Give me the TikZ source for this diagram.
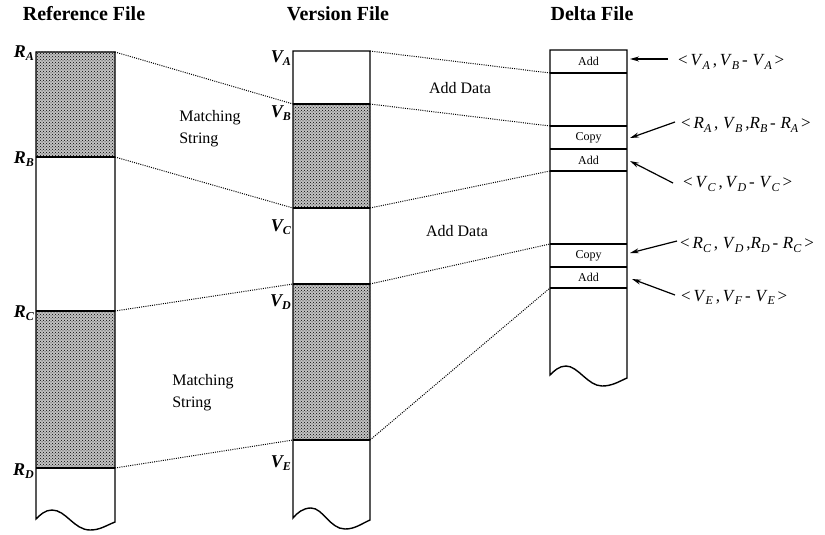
\documentclass[tikz,border=0pt]{standalone}
\usepackage{fontspec}
\setmainfont{Liberation Serif}
\usetikzlibrary{patterns,arrows.meta}
\newcommand\lowsub[1]{\raisebox{-0.4ex}{\fontsize{12}{12}\selectfont #1}}
\newcommand\vv[2]{\textit{#1}\lowsub{\textit{#2}}}
\begin{document}
\begin{tikzpicture}[x=1pt,y=-1pt,
 colline/.style={line width=1.4pt},
 dotline/.style={dash pattern=on 1pt off 1.2pt,line width=1pt},
 dotbase/.style={fill=black!24},
 dotfill/.style={pattern=crosshatch dots, pattern color=black},
 header/.style={font=\fontsize{20}{22}\selectfont\bfseries},
 midtext/.style={font=\fontsize{16}{22}\selectfont, align=left},
 cell/.style={font=\fontsize{12}{12}\selectfont},
 sidelab/.style={font=\fontsize{18}{18}\selectfont\bfseries\itshape, anchor=east, inner sep=1pt},
 tuple/.style={font=\fontsize{17}{17}\selectfont, anchor=west, inner sep=0pt},
 arr/.style={-{Stealth[length=9pt,width=5pt]}, line width=1.2pt}]
\useasboundingbox (0,0) rectangle (825,535);

% ---------- coordinates ----------
% reference file
\coordinate (RAl) at (36,52);  \coordinate (RAr) at (115,52);
\coordinate (RBl) at (36,157); \coordinate (RBr) at (115,157);
\coordinate (RCl) at (36,311); \coordinate (RCr) at (115,311);
\coordinate (RDl) at (36,468); \coordinate (RDr) at (115,468);
% version file
\coordinate (VAl) at (293,51);  \coordinate (VAr) at (370,51);
\coordinate (VBl) at (293,104); \coordinate (VBr) at (370,104);
\coordinate (VCl) at (293,208); \coordinate (VCr) at (370,208);
\coordinate (VDl) at (293,284); \coordinate (VDr) at (370,284);
\coordinate (VEl) at (293,440); \coordinate (VEr) at (370,440);
% delta file
\coordinate (D0l) at (550,50);  \coordinate (D0r) at (627,50);
\coordinate (D1l) at (550,73);  \coordinate (D1r) at (627,73);
\coordinate (D2l) at (550,126); \coordinate (D2r) at (627,126);
\coordinate (D3l) at (550,149); \coordinate (D3r) at (627,149);
\coordinate (D4l) at (550,171); \coordinate (D4r) at (627,171);
\coordinate (D5l) at (550,244); \coordinate (D5r) at (627,244);
\coordinate (D6l) at (550,267); \coordinate (D6r) at (627,267);
\coordinate (D7l) at (550,288); \coordinate (D7r) at (627,288);

% ---------- shaded matching strings ----------
\foreach \a/\b in {RAl/RBr,RCl/RDr,VBl/VCr,VDl/VEr}{
  \fill[dotbase] (\a) rectangle (\b);
  \fill[dotfill] (\a) rectangle (\b);
}

% ---------- column outlines ----------
\draw[colline] (36,519) -- (RAl) -- (RAr) -- (115,522)
  .. controls (105,526) and (100,530) .. (90,530)
  .. controls (74,530) and (66,510) .. (52,510)
  .. controls (45,510) and (40,515) .. cycle;
\draw[colline] (293,518) -- (VAl) -- (VAr) -- (370,520)
  .. controls (361,524) and (355,529) .. (345,529)
  .. controls (330,529) and (323,508) .. (311,508)
  .. controls (303,508) and (297,513) .. cycle;
\draw[colline] (550,375) -- (D0l) -- (D0r) -- (627,378)
  .. controls (618,382) and (612,386) .. (602,386)
  .. controls (588,386) and (578,366) .. (566,366)
  .. controls (559,366) and (554,371) .. cycle;

% horizontal dividers
\foreach \p in {RB,RC,RD,VB,VC,VD,VE,D1,D2,D3,D4,D5,D6,D7}
  \draw[colline] (\p l) -- (\p r);

% ---------- cells ----------
\node[cell] (c1) at (588.5,61.5) {Add};
\node[cell] (c2) at (588.5,137.5) {Copy};
\node[cell] (c3) at (588.5,160) {Add};
\node[cell] (c4) at (588.5,255.5) {Copy};
\node[cell] (c5) at (588.5,277.5) {Add};

% ---------- headers ----------
\node[header] (h1) at (84,14) {Reference File};
\node[header] (h2) at (338,14) {Version File};
\node[header] (h3) at (592,14) {Delta File};

% ---------- side labels ----------
\node[sidelab] (lRA) at (35,53) {\vv{R}{A}};
\node[sidelab] (lRB) at (35,159) {\vv{R}{B}};
\node[sidelab] (lRC) at (35,313) {\vv{R}{C}};
\node[sidelab] (lRD) at (35,471) {\vv{R}{D}};
\node[sidelab] (lVA) at (292,58) {\vv{V}{A}};
\node[sidelab] (lVB) at (292,113) {\vv{V}{B}};
\node[sidelab] (lVC) at (292,227) {\vv{V}{C}};
\node[sidelab] (lVD) at (292,302) {\vv{V}{D}};
\node[sidelab] (lVE) at (292,463) {\vv{V}{E}};

% ---------- middle texts ----------
\node[midtext] (m1) at (210,129) {Matching\\String};
\node[midtext] (m2) at (203,393) {Matching\\String};
\node[midtext] (a1) at (460,88) {Add Data};
\node[midtext] (a2) at (457,231) {Add Data};

% ---------- dotted correspondences ----------
\draw[dotline] (RAr) -- (VBl);
\draw[dotline] (RBr) -- (VCl);
\draw[dotline] (RCr) -- (VDl);
\draw[dotline] (RDr) -- (VEl);
\draw[dotline] (VAr) -- (D1l);
\draw[dotline] (VBr) -- (D2l);
\draw[dotline] (VCr) -- (D4l);
\draw[dotline] (VDr) -- (D5l);
\draw[dotline] (VEr) -- (D7l);

% ---------- tuples ----------
\node[tuple] (t1) at (678,62) {<\,\vv{V}{A}\,,\,\vv{V}{B}\,-\;\vv{V}{A}\,>};
\node[tuple] (t2) at (681,125) {<\,\vv{R}{A}\,,\;\vv{V}{B}\,,\vv{R}{B}\,-\;\vv{R}{A}\,>};
\node[tuple] (t3) at (683,184) {<\,\vv{V}{C}\,,\,\vv{V}{D}\,-\;\vv{V}{C}\,>};
\node[tuple] (t4) at (680,245) {<\,\vv{R}{C}\,,\;\vv{V}{D}\,,\vv{R}{D}\,-\;\vv{R}{C}\,>};
\node[tuple] (t5) at (681,297) {<\,\vv{V}{E}\,,\,\vv{V}{F}\,-\;\vv{V}{E}\,>};

\coordinate (s1) at (668,59);  \coordinate (e1) at (630,59);
\coordinate (s2) at (675,122); \coordinate (e2) at (630,138);
\coordinate (s3) at (673,183); \coordinate (e3) at (630,161);
\coordinate (s4) at (677,241); \coordinate (e4) at (630,253);
\coordinate (s5) at (675,295); \coordinate (e5) at (632,279);
\foreach \i in {1,...,5} \draw[arr] (s\i) -- (e\i);
\end{tikzpicture}
\end{document}
